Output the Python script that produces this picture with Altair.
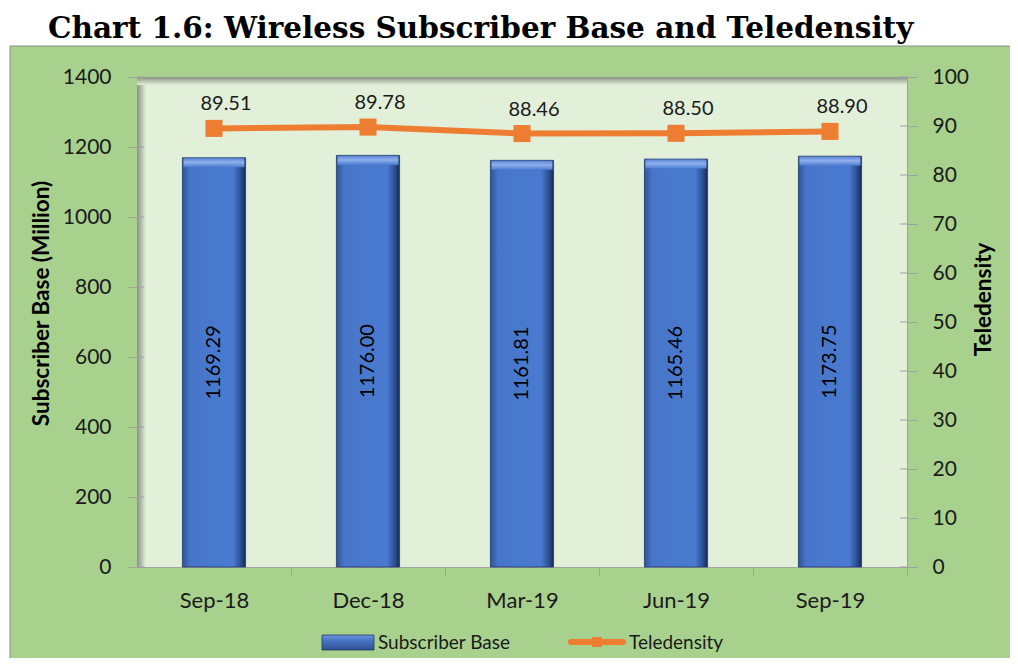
import altair as alt
import pandas as pd

categories = ["Sep-18", "Dec-18", "Mar-19", "Jun-19", "Sep-19"]
subscriber_base = [1169.29, 1176.00, 1161.81, 1165.46, 1173.75]
teledensity = [89.51, 89.78, 88.46, 88.50, 88.90]
series_names = ["Subscriber Base", "Teledensity"]
left_ticks = [0, 200, 400, 600, 800, 1000, 1200, 1400]
right_ticks = [0, 10, 20, 30, 40, 50, 60, 70, 80, 90, 100]
title_text = "Chart 1.6: Wireless Subscriber Base and Teledensity"

df = pd.DataFrame({"Quarter": categories,
                   "Subscriber Base": subscriber_base,
                   "Teledensity": teledensity})
one = pd.DataFrame({"k": [0]})

W, H = 770, 490
STEP = W / len(categories)
GREEN = "#a9d18e"
PLOT = "#e2efd9"
ORANGE = "#ed7d31"
AX = "#a0a0a0"
TXT = "#1a1a1a"
FONT = "Lato"
LDOM = [0, 1400]
RDOM = [0, 100]

bar_grad = alt.Gradient(
    gradient="linear", x1=0, x2=1, y1=0, y2=0,
    stops=[alt.GradientStop(color="#2f5597", offset=0),
           alt.GradientStop(color="#4775c9", offset=0.12),
           alt.GradientStop(color="#4a7bd0", offset=0.8),
           alt.GradientStop(color="#2a4d8f", offset=0.93),
           alt.GradientStop(color="#152a52", offset=1)])
bevel_grad = alt.Gradient(
    gradient="linear", x1=0, x2=0, y1=0, y2=1,
    stops=[alt.GradientStop(color="#5d86d6", offset=0),
           alt.GradientStop(color="#8fb0ec", offset=0.45),
           alt.GradientStop(color="#4a7bd0", offset=1)])
shade_h = alt.Gradient(gradient="linear", x1=0, x2=1, y1=0, y2=0,
                       stops=[alt.GradientStop(color="#8a9186", offset=0),
                              alt.GradientStop(color=PLOT, offset=1)])
shade_v = alt.Gradient(gradient="linear", x1=0, x2=0, y1=0, y2=1,
                       stops=[alt.GradientStop(color="#8a9186", offset=0),
                              alt.GradientStop(color=PLOT, offset=1)])

xenc = alt.X("Quarter:N", sort=categories,
             scale=alt.Scale(paddingInner=0.59, paddingOuter=0.295),
             axis=alt.Axis(title=None, labelAngle=0, tickOffset=STEP / 2,
                           labelOffset=-STEP / 2,
                           labelFont=FONT, labelFontSize=22, labelPadding=15,
                           tickSize=8, labelColor=TXT, domainColor=AX,
                           tickColor=AX))

yleft = alt.Y("Subscriber Base:Q", scale=alt.Scale(domain=LDOM),
              axis=alt.Axis(values=left_ticks, format="d",
                            title="Subscriber Base (Million)",
                            grid=False, labelFont=FONT, labelFontSize=21,
                            labelColor=TXT, labelPadding=17, tickSize=9,
                            tickColor=AX, domainColor=AX, titleFont=FONT,
                            titleFontSize=22.5, titleFontWeight="bold",
                            titleColor="black", titleAngle=270,
                            titleX=-96, titleY=226, titleAlign="center",
                            titleBaseline="middle"))
yright = alt.Y("Teledensity:Q", scale=alt.Scale(domain=RDOM),
               axis=alt.Axis(orient="right", values=right_ticks,
                             title="Teledensity", grid=False, labelFont=FONT,
                             labelFontSize=21, labelColor=TXT, labelPadding=15,
                             tickSize=10, tickColor=AX, domainColor=AX,
                             titleFont=FONT, titleFontSize=22.5,
                             titleFontWeight="bold", titleColor="black",
                             titleAngle=270, titleX=76, titleY=222,
                             titleAlign="center", titleBaseline="middle"))

# decoration: white strip above the green panel, panel border, plot shadows
white_top = alt.Chart(one).mark_rect(fill="white").encode(
    x=alt.value(-140), x2=alt.value(890), y=alt.value(-80), y2=alt.value(-31))
white_left = alt.Chart(one).mark_rect(fill="white").encode(
    x=alt.value(-140), x2=alt.value(-127), y=alt.value(-80), y2=alt.value(600))
border_top = alt.Chart(one).mark_rule(color="#8c8c8c").encode(
    x=alt.value(-127), x2=alt.value(890), y=alt.value(-31))
border_left = alt.Chart(one).mark_rule(color="#8c8c8c").encode(
    x=alt.value(-127), y=alt.value(-31), y2=alt.value(600))
shadow_left = alt.Chart(one).mark_rect(fill=shade_h).encode(
    x=alt.value(0), x2=alt.value(9), y=alt.value(0), y2=alt.value(H))
shadow_top = alt.Chart(one).mark_rect(fill=shade_v).encode(
    x=alt.value(0), x2=alt.value(W), y=alt.value(0), y2=alt.value(8))
title = alt.Chart(one).mark_text(
    align="left", baseline="alphabetic", font="DejaVu Serif", fontSize=29.5,
    fontWeight="bold", color="black").encode(
    x=alt.value(-89), y=alt.value(-39), text=alt.value(title_text))

bars = alt.Chart(df).mark_bar(color=bar_grad, stroke="#1f3864",
                              strokeWidth=0.8).encode(x=xenc, y=yleft)
bevel = alt.Chart(df).mark_tick(color=bevel_grad, thickness=9, size=61,
                                yOffset=5, opacity=1).encode(
    x=xenc, y=alt.Y("Subscriber Base:Q", scale=alt.Scale(domain=LDOM),
                    axis=None))
bar_text = alt.Chart(df).transform_calculate(
    mid="datum['Subscriber Base'] / 2").mark_text(
    angle=270, font=FONT, fontSize=20, color="black").encode(
    x=xenc, y=alt.Y("mid:Q", scale=alt.Scale(domain=LDOM), axis=None),
    text=alt.Text("Subscriber Base:Q", format=".2f"))
lticks = alt.Chart(pd.DataFrame({"v": left_ticks})).mark_rule(color=AX).encode(
    y=alt.Y("v:Q", scale=alt.Scale(domain=LDOM), axis=None),
    x=alt.value(0), x2=alt.value(7))

line = alt.Chart(df).mark_line(color=ORANGE, strokeWidth=6).encode(
    x=xenc, y=yright)
pts = alt.Chart(df).mark_point(shape="square", filled=True, size=290,
                               color=ORANGE, opacity=1).encode(
    x=xenc, y=alt.Y("Teledensity:Q", scale=alt.Scale(domain=RDOM), axis=None))
pt_text = alt.Chart(df).mark_text(dy=-24, dx=12, font=FONT, fontSize=20,
                                  color=TXT).encode(
    x=xenc, y=alt.Y("Teledensity:Q", scale=alt.Scale(domain=RDOM), axis=None),
    text=alt.Text("Teledensity:Q", format=".2f"))
rticks = alt.Chart(pd.DataFrame({"v": right_ticks})).mark_rule(color=AX).encode(
    y=alt.Y("v:Q", scale=alt.Scale(domain=RDOM), axis=None),
    x=alt.value(W - 7), x2=alt.value(W))

# legend
leg_bar = alt.Chart(one).mark_rect(
    fill=alt.Gradient(gradient="linear", x1=0, x2=0, y1=0, y2=1,
                      stops=[alt.GradientStop(color="#6f95dc", offset=0),
                             alt.GradientStop(color="#4472c4", offset=0.4),
                             alt.GradientStop(color="#2f528f", offset=1)]),
    stroke="#1f3864", strokeWidth=0.8).encode(
    x=alt.value(185), x2=alt.value(237), y=alt.value(558), y2=alt.value(573))
leg_t1 = alt.Chart(one).mark_text(align="left", baseline="middle", font=FONT,
                                  fontSize=19, color=TXT).encode(
    x=alt.value(241), y=alt.value(566), text=alt.value(series_names[0]))
leg_line = alt.Chart(one).mark_rule(color=ORANGE, strokeWidth=6,
                                    strokeCap="round").encode(
    x=alt.value(434), x2=alt.value(486), y=alt.value(565))
leg_pt = alt.Chart(one).mark_point(shape="square", filled=True, size=100,
                                   color=ORANGE, opacity=1).encode(
    x=alt.value(460), y=alt.value(565))
leg_t2 = alt.Chart(one).mark_text(align="left", baseline="middle", font=FONT,
                                  fontSize=19, color=TXT).encode(
    x=alt.value(492), y=alt.value(566), text=alt.value(series_names[1]))

chart = alt.layer(
    white_top, white_left, border_top, border_left, shadow_left, shadow_top,
    title, bars, bevel, bar_text, lticks, line, pts, pt_text, rticks,
    leg_bar, leg_t1, leg_line, leg_pt, leg_t2
).resolve_scale(y="independent").properties(
    width=W, height=H, background=GREEN,
    padding={"left": 129, "top": 69, "right": 103, "bottom": 91},
    autosize=alt.AutoSizeParams(type="none")
).configure_view(stroke=None, fill=PLOT)

chart.save("out.html", embed_options={"renderer": "svg", "actions": False})
